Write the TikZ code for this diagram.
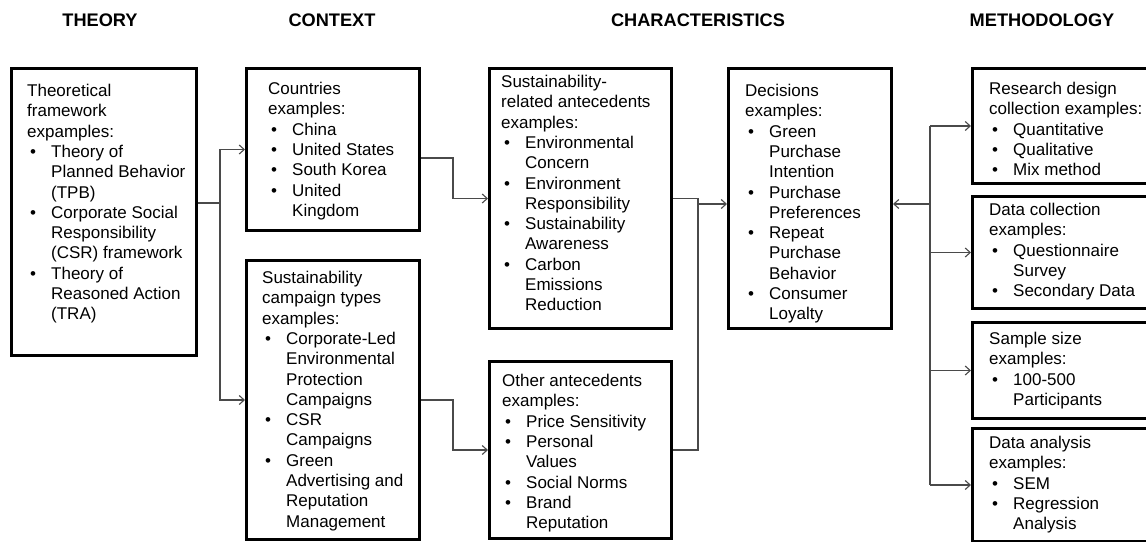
\documentclass[tikz,border=0pt]{standalone}
\usepackage{fontspec}
\setmainfont{Liberation Sans}
\usepackage{tikz}
\usetikzlibrary{arrows.meta,positioning}
\definecolor{wire}{HTML}{4A4A4A}
\newcommand{\itm}{\makebox[24pt][l]{\hspace{3pt}\textbullet}}
\newcommand{\cnt}{\makebox[24pt]{}}

\begin{document}
\begin{tikzpicture}[>={Straight Barb[length=5pt,width=9pt]},x=1pt,y=-1pt,
  font=\fontsize{17}{20.3}\selectfont,
  head/.style={font=\fontsize{18.2}{20}\selectfont\bfseries,anchor=base,inner sep=0pt},
  box/.style={draw,line width=3pt,inner sep=0pt,anchor=north west},
  txt/.style={align=left,anchor=north west,inner sep=0pt},
  link/.style={draw=wire,line width=1.1pt}]
\useasboundingbox (0,0) rectangle (1146,541);
\clip (0,0) rectangle (1146,541);
\node[head] (hTheory) at (100,26){THEORY};
\node[head] (hContext) at (332,26){CONTEXT};
\node[head] (hChar) at (698,26){CHARACTERISTICS};
\node[head] (hMethod) at (1042,26){METHODOLOGY};
% boxes
\node[box,minimum width=185pt,minimum height=287pt] (theory) at (10,67){};
\node[box,minimum width=173pt,minimum height=162pt] (ctry) at (245,67){};
\node[box,minimum width=173pt,minimum height=279pt] (camp) at (245,259){};
\node[box,minimum width=182pt,minimum height=260pt] (sust) at (488,67){};
\node[box,minimum width=182pt,minimum height=177pt] (other) at (488,360){};
\node[box,minimum width=163pt,minimum height=260pt] (dec) at (727,67){};
\node[box,minimum width=190pt,minimum height=115pt] (res) at (971,67){};
\node[box,minimum width=190pt,minimum height=112pt] (coll) at (971,195){};
\node[box,minimum width=190pt,minimum height=96pt] (smp) at (971,321){};
\node[box,minimum width=190pt,minimum height=113pt] (ana) at (971,427){};
% box texts
\node[txt] (theoryTxt) at (27,84){Theoretical\\ framework\\ expamples:\\ \itm Theory of\\ \cnt Planned Behavior\\ \cnt (TPB)\\ \itm Corporate Social\\ \cnt Responsibility\\ \cnt (CSR) framework\\ \itm Theory of\\ \cnt Reasoned Action\\ \cnt (TRA)};
\node[txt] (ctryTxt) at (268,82){Countries\\ examples:\\ \itm China\\ \itm United States\\ \itm South Korea\\ \itm United\\ \cnt Kingdom};
\node[txt] (campTxt) at (262,271){Sustainability\\ campaign types\\ examples:\\ \itm Corporate-Led\\ \cnt Environmental\\ \cnt Protection\\ \cnt Campaigns\\ \itm CSR\\ \cnt Campaigns\\ \itm Green\\ \cnt Advertising and\\ \cnt Reputation\\ \cnt Management};
\node[txt] (sustTxt) at (501,75){Sustainability-\\ related antecedents\\ examples:\\ \itm Environmental\\ \cnt Concern\\ \itm Environment\\ \cnt Responsibility\\ \itm Sustainability\\ \cnt Awareness\\ \itm Carbon\\ \cnt Emissions\\ \cnt Reduction};
\node[txt] (otherTxt) at (502,374){Other antecedents\\ examples:\\ \itm Price Sensitivity\\ \itm Personal\\ \cnt Values\\ \itm Social Norms\\ \itm Brand\\ \cnt Reputation};
\node[txt] (decTxt) at (745,84){Decisions\\ examples:\\ \itm Green\\ \cnt Purchase\\ \cnt Intention\\ \itm Purchase\\ \cnt Preferences\\ \itm Repeat\\ \cnt Purchase\\ \cnt Behavior\\ \itm Consumer\\ \cnt Loyalty};
\node[txt] (resTxt) at (989,82){Research design\\ collection examples:\\ \itm Quantitative\\ \itm Qualitative\\ \itm Mix method};
\node[txt] (collTxt) at (989,203){Data collection\\ examples:\\ \itm Questionnaire\\ \cnt Survey\\ \itm Secondary Data};
\node[txt] (smpTxt) at (989,332){Sample size\\ examples:\\ \itm 100-500\\ \cnt Participants};
\node[txt] (anaTxt) at (989,436){Data analysis\\ examples:\\ \itm SEM\\ \itm Regression\\ \cnt Analysis};
% connectors
\coordinate (tj) at (220,203);
\coordinate (cj) at (453,158);
\coordinate (mj) at (698,204);
\coordinate (mt) at (930,204);
\draw[link] (theory.east |- tj) -- (tj);
\draw[link,->] (tj) |- (ctry);
\draw[link,->] (tj) |- (camp);
\draw[link,->] (ctry.east |- cj) -- (cj) |- (sust);
\draw[link,->] (camp.east) -- (camp.east -| cj) |- (other);
\draw[link] (sust.east) -| (mj);
\draw[link] (other.east) -| (mj);
\draw[link,->] (mj) -- (mj -| dec.west);
\draw[link,->] (mt) -- (mt -| dec.east);
\draw[link] (mt |- res) -- (mt |- ana);
\foreach \b in {res,coll,smp,ana}
  \draw[link,->] (mt |- \b) -- (\b);
\end{tikzpicture}
\end{document}
